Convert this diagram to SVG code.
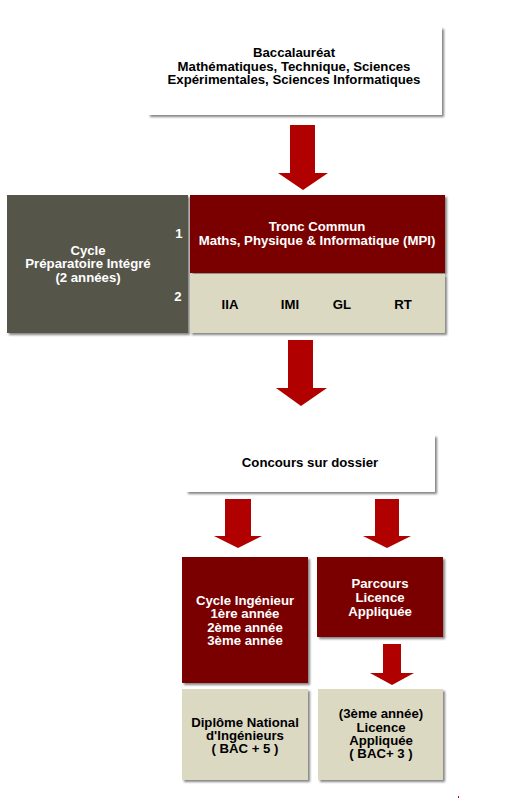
<svg xmlns="http://www.w3.org/2000/svg" width="518" height="800" viewBox="0 0 518 800">
<style>
text{font-family:"Liberation Sans",Arial,sans-serif;font-weight:bold;text-anchor:middle;font-size:13.2px}
.dk{fill:#000}
.wt{fill:#fff}
.white{fill:#fff}
.red{fill:#7a0000}
.beige{fill:#dcd9c3}
.gray{fill:#57554a}
.arrow{fill:#b00000}
</style>
<defs>
<filter id="sh" x="-5%" y="-5%" width="115%" height="115%">
<feDropShadow dx="2" dy="2" stdDeviation="1.2" flood-color="#666" flood-opacity="0.8"/>
</filter>
</defs>
<g id="connectors">
<polygon class="arrow" points="290,125 315,125 315,173 328,173 303,190 278,173 290,173"/>
<polygon class="arrow" points="288,340 313,340 313,388 327,388 301,406 276,388 288,388"/>
<polygon class="arrow" points="225,499 251,499 251,536 262,536 238,548 214,536 225,536"/>
<polygon class="arrow" points="375,499 399,499 399,536 411,536 387,548 363,536 375,536"/>
<polygon class="arrow" points="383,644 401,644 401,673 414,673 392,685 370,673 383,673"/>
</g>
<g id="bac">
<rect class="white" x="148" y="27" width="294" height="88" filter="url(#sh)"/>
<text class="dk" x="294" y="57">Baccalauréat</text>
<text class="dk" x="294" y="71">Mathématiques, Technique, Sciences</text>
<text class="dk" x="294" y="84">Expérimentales, Sciences Informatiques</text>
</g>
<g id="cycle-prep">
<rect class="gray" x="7" y="195" width="181" height="138" filter="url(#sh)"/>
<text class="wt" x="88" y="255">Cycle</text>
<text class="wt" x="88" y="268">Préparatoire Intégré</text>
<text class="wt" x="88" y="282">(2 années)</text>
<text class="wt" x="179" y="238">1</text>
<text class="wt" x="178" y="301">2</text>
</g>
<g id="tronc">
<rect class="red" x="190" y="195" width="255" height="78" filter="url(#sh)"/>
<text class="wt" x="317" y="231">Tronc Commun</text>
<text class="wt" x="317" y="245">Maths, Physique &amp; Informatique (MPI)</text>
</g>
<g id="specialites">
<rect class="beige" x="190" y="274" width="255" height="59" filter="url(#sh)"/>
<text class="dk" x="230" y="309">IIA</text>
<text class="dk" x="290" y="309">IMI</text>
<text class="dk" x="342" y="309">GL</text>
<text class="dk" x="403" y="309">RT</text>
</g>
<g id="concours">
<rect class="white" x="186" y="435" width="249" height="57" filter="url(#sh)"/>
<text class="dk" x="310" y="467">Concours sur dossier</text>
</g>
<g id="cycle-ing">
<rect class="red" x="182" y="557" width="126" height="126" filter="url(#sh)"/>
<text class="wt" x="245" y="605">Cycle Ingénieur</text>
<text class="wt" x="245" y="618">1ère année</text>
<text class="wt" x="245" y="632">2ème année</text>
<text class="wt" x="245" y="645">3ème année</text>
</g>
<g id="parcours">
<rect class="red" x="317" y="557" width="126" height="80" filter="url(#sh)"/>
<text class="wt" x="380" y="588">Parcours</text>
<text class="wt" x="380" y="602">Licence</text>
<text class="wt" x="380" y="616">Appliquée</text>
</g>
<g id="diplome">
<rect class="beige" x="182" y="689" width="126" height="91" filter="url(#sh)"/>
<text class="dk" x="245" y="727">Diplôme National</text>
<text class="dk" x="245" y="740">d'Ingénieurs</text>
<text class="dk" x="245" y="753">( BAC + 5 )</text>
</g>
<g id="licence">
<rect class="beige" x="318" y="689" width="125" height="91" filter="url(#sh)"/>
<text class="dk" x="381" y="718">(3ème année)</text>
<text class="dk" x="381" y="732">Licence</text>
<text class="dk" x="381" y="745">Appliquée</text>
<text class="dk" x="381" y="758">( BAC+ 3 )</text>
</g>
<rect x="458" y="796" width="1" height="2" fill="#d00000"/>
</svg>
